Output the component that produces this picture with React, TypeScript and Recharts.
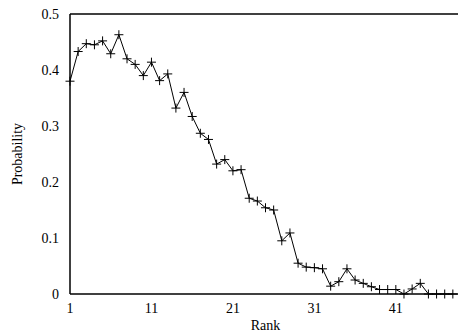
import { Line, LineChart, XAxis, YAxis } from "recharts";

const ranks = [
    1, 2, 3, 4, 5, 6, 7, 8, 9, 10, 11, 12, 13, 14, 15, 16, 17, 18, 19, 20, 21, 22, 23, 24,
    25, 26, 27, 28, 29, 30, 31, 32, 33, 34, 35, 36, 37, 38, 39, 40, 41, 42, 43, 44, 45, 46,
    47, 48,
];
const probability = [
    0.38, 0.433, 0.447, 0.445, 0.452, 0.429, 0.463, 0.42, 0.41, 0.39, 0.414, 0.381, 0.393,
    0.332, 0.36, 0.317, 0.287, 0.276, 0.232, 0.24, 0.22, 0.222, 0.171, 0.166, 0.154, 0.15,
    0.095, 0.109, 0.055, 0.048, 0.047, 0.045, 0.014, 0.022, 0.045, 0.025, 0.019, 0.013,
    0.008, 0.008, 0.008, 0, 0.009, 0.019, 0, 0, 0, 0,
];
const xTicks = [1, 11, 21, 31, 41];
const yTicks = [0, 0.1, 0.2, 0.3, 0.4, 0.5];

const data = ranks.map((r, i) => ({ rank: r, p: probability[i] }));

const font = { fontFamily: "Liberation Serif", fontSize: 14, fill: "#000" };

function Plus(props: any) {
    const { cx, cy } = props;
    if (cx == null || cy == null) return null;
    return (
        <g stroke="#000" strokeWidth={1}>
            <line x1={cx - 4.5} y1={cy} x2={cx + 4.5} y2={cy} />
            <line x1={cx} y1={cy - 4.5} x2={cx} y2={cy + 4.5} />
        </g>
    );
}

export default function App() {
    return (
        <div style={{ position: "absolute", left: 0, top: 0, width: 458, height: 334, overflow: "hidden", background: "#fff" }}>
            <LineChart
                width={462}
                height={334}
                data={data}
                margin={{ top: 14, right: 1, bottom: 0, left: 0 }}
            >
                <XAxis
                    xAxisId="lbl"
                    dataKey="rank"
                    type="number"
                    domain={[1, 49]}
                    ticks={xTicks}
                    axisLine={false}
                    tickLine={false}
                    tickSize={0}
                    tickMargin={9}
                    height={40}
                    tick={font}
                    label={{ value: "Rank", position: "insideBottom", offset: 4, style: font }}
                />
                <XAxis
                    xAxisId="b"
                    dataKey="rank"
                    type="number"
                    domain={[1, 49]}
                    ticks={xTicks}
                    mirror
                    tick={false}
                    tickSize={5}
                    stroke="#000"
                    strokeWidth={1.5}
                />
                <XAxis
                    xAxisId="t"
                    orientation="top"
                    dataKey="rank"
                    type="number"
                    domain={[1, 49]}
                    ticks={xTicks}
                    mirror
                    tick={false}
                    tickSize={5}
                    stroke="#000"
                    strokeWidth={1.5}
                />
                <YAxis
                    yAxisId="lbl"
                    type="number"
                    domain={[0, 0.5]}
                    ticks={yTicks}
                    width={70}
                    axisLine={false}
                    tickLine={false}
                    tickSize={0}
                    tickMargin={11}
                    tick={font}
                    label={{
                        value: "Probability",
                        angle: -90,
                        position: "insideLeft",
                        offset: 17,
                        style: { ...font, textAnchor: "middle" },
                    }}
                />
                <YAxis
                    yAxisId="l"
                    type="number"
                    domain={[0, 0.5]}
                    ticks={yTicks}
                    mirror
                    tick={false}
                    tickSize={5}
                    stroke="#000"
                    strokeWidth={1.5}
                />
                <YAxis
                    yAxisId="r"
                    orientation="right"
                    type="number"
                    domain={[0, 0.5]}
                    ticks={yTicks}
                    mirror
                    tick={false}
                    tickSize={5}
                    stroke="#000"
                    strokeWidth={1.5}
                />
                <Line
                    xAxisId="lbl"
                    yAxisId="lbl"
                    type="linear"
                    dataKey="p"
                    stroke="#000"
                    strokeWidth={1}
                    dot={<Plus />}
                    activeDot={false}
                    isAnimationActive={false}
                />
            </LineChart>
        </div>
    );
}
